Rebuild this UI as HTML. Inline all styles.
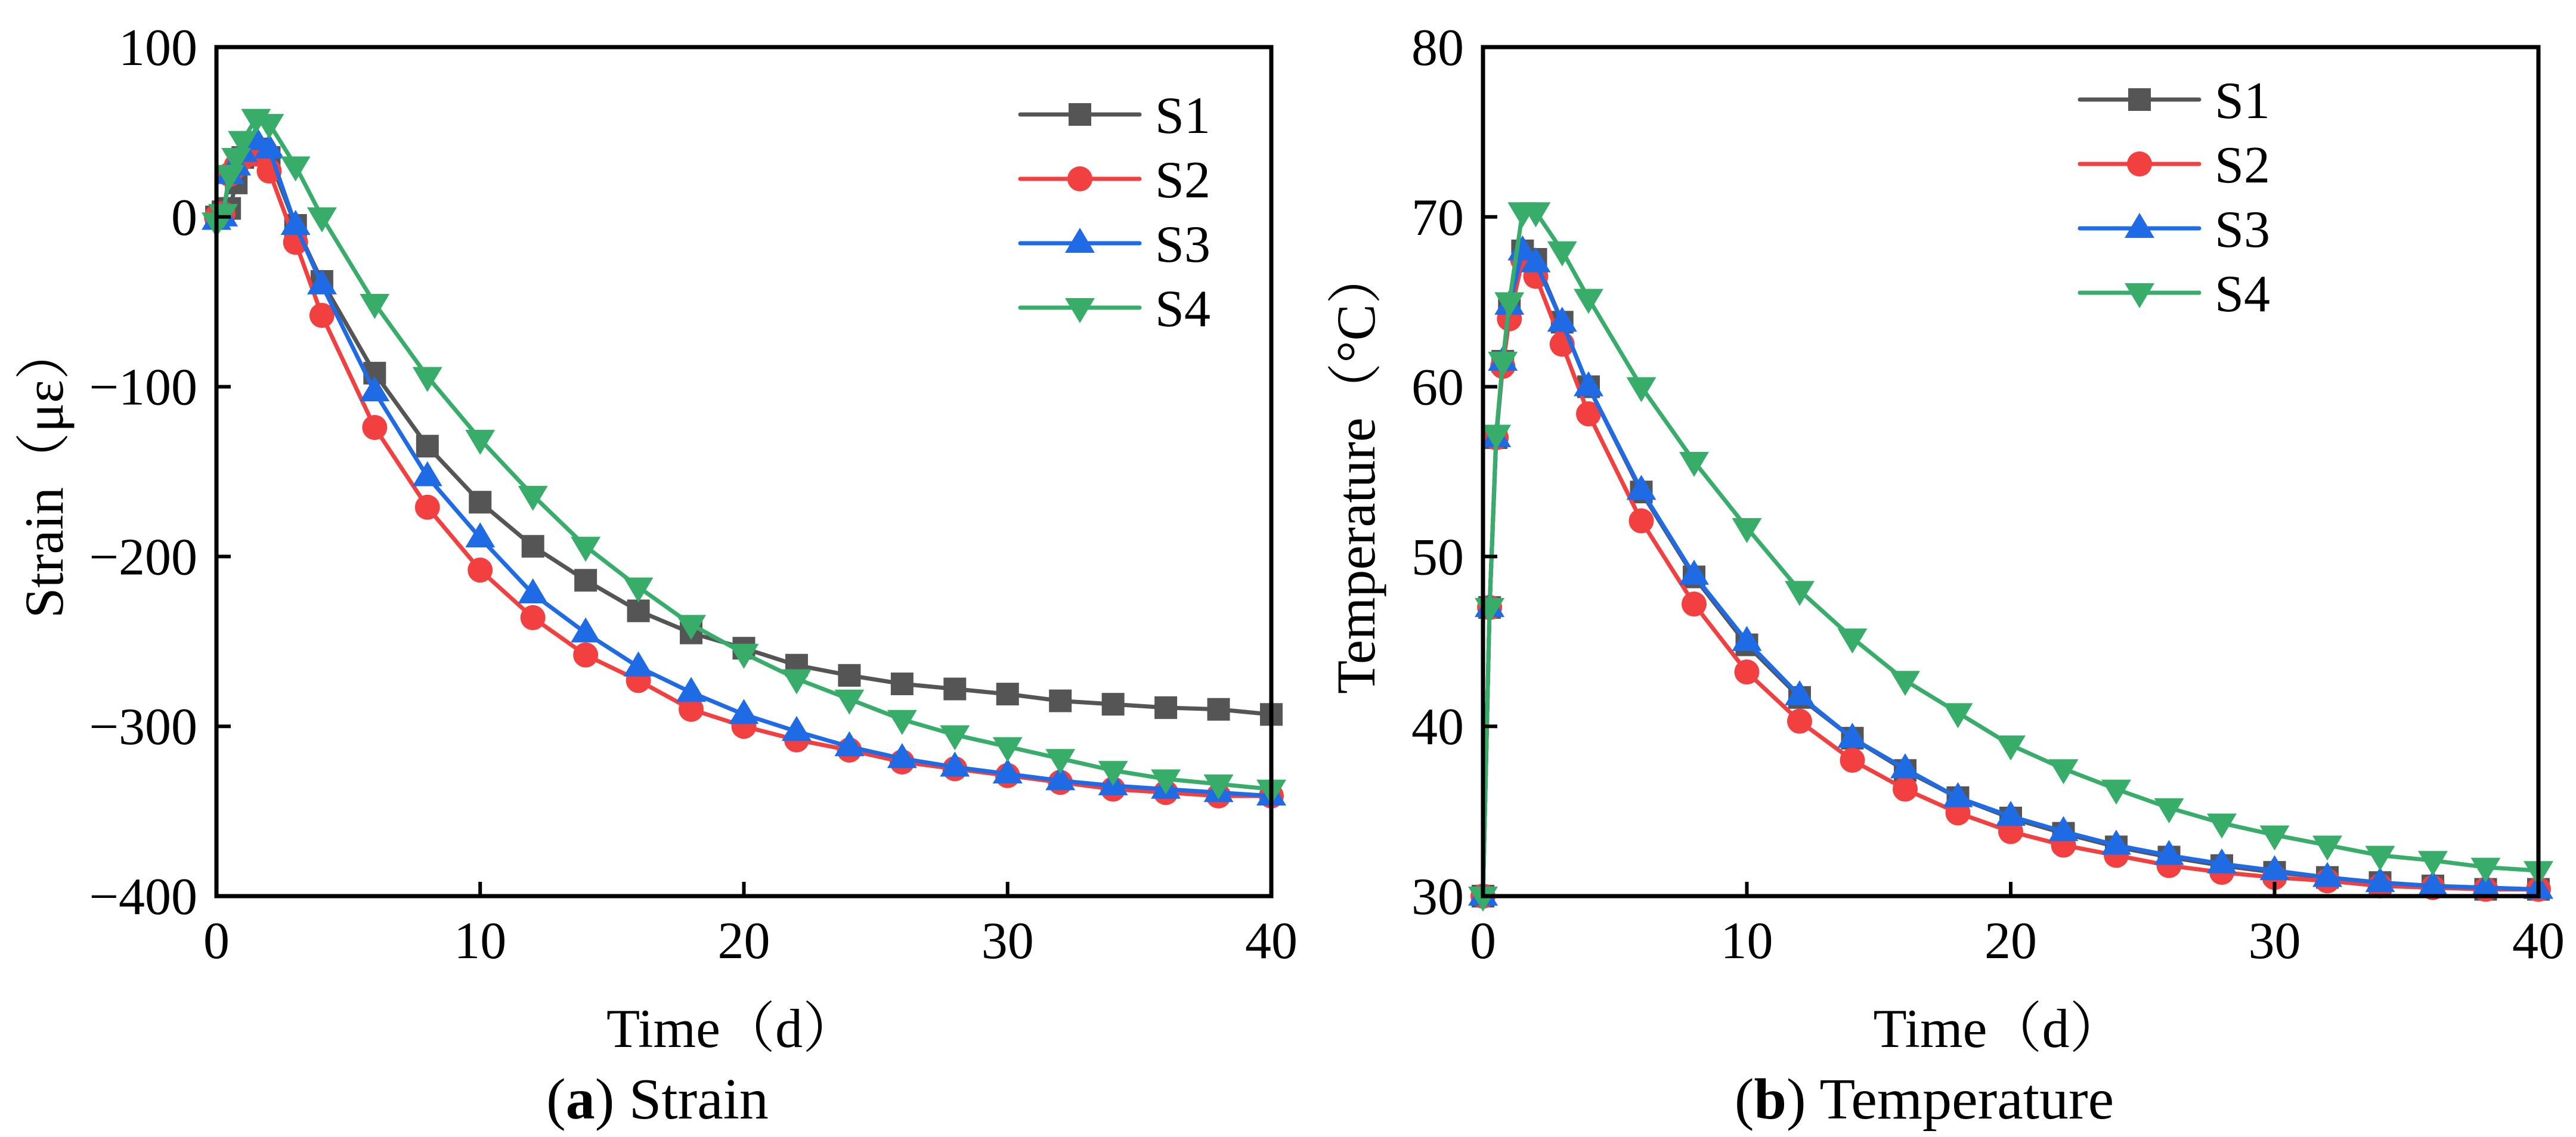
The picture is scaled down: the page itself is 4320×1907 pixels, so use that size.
<!DOCTYPE html>
<html><head><meta charset="utf-8"><style>
html,body{margin:0;padding:0;background:#fff;}
svg{display:block;}
text{font-family:"Liberation Serif","Noto Serif CJK SC",serif;fill:#000;}
</style></head>
<body>
<svg id="fig" width="4320" height="1907" viewBox="0 0 4320 1907" xmlns="http://www.w3.org/2000/svg"></svg>
<script>
const time = [0,0.25,0.5,0.75,1,1.5,2,3,4,6,8,10,12,14,16,18,20,22,24,26,28,30,32,34,36,38,40];
const strainS1 = [0,3,5,20,35,40,35,-5,-38,-92,-135,-168,-194,-214,-232,-245,-254,-264,-270,-275,-278,-281,-285,-287,-289,-290,-293];
const strainS2 = [0,2,25,30,35,37,27,-15,-58,-124,-171,-208,-236,-258,-273,-290,-300,-308,-314,-321,-325,-329,-333,-337,-339,-341,-341];
const strainS3 = [-2,0,25,30,38,45,40,-5,-40,-103,-153,-189,-222,-245,-265,-280,-293,-303,-312,-319,-324,-328,-332,-335,-337,-339,-341];
const strainS4 = [-3,2,25,35,45,58,55,30,0,-51,-94,-131,-164,-194,-218,-240,-257,-272,-284,-296,-305,-312,-319,-326,-331,-334,-337];
const tempS1 = [30,47,57,61.5,64.5,68,67.5,63.8,60,53.8,48.8,44.8,41.7,39.3,37.4,35.8,34.6,33.7,32.9,32.3,31.8,31.4,31.1,30.8,30.6,30.4,30.4];
const tempS2 = [30,47,57,61.2,64,67.5,66.5,62.5,58.4,52.1,47.2,43.2,40.3,38,36.3,34.9,33.8,33,32.4,31.8,31.4,31.1,30.9,30.6,30.5,30.4,30.4];
const tempS3 = [30,47,57,61.5,64.8,68,67.3,63.8,60,53.9,48.9,45,41.8,39.3,37.5,35.8,34.7,33.8,33,32.4,31.9,31.5,31.1,30.8,30.6,30.5,30.4];
const tempS4 = [30,47,57.2,61.5,65,70.3,70.3,68,65.2,60,55.6,51.7,48,45.2,42.7,40.8,38.9,37.5,36.3,35.2,34.3,33.6,33,32.4,32.1,31.7,31.5];
const xTicks = [0,10,20,30,40];
const strainTicks = [100,0,-100,-200,-300,-400];
const tempTicks = [30,40,50,60,70,80];
const seriesNames = ["S1","S2","S3","S4"];

const NS="http://www.w3.org/2000/svg";
const svg=document.getElementById('fig');
function mk(tag,attrs,parent){const e=document.createElementNS(NS,tag);for(const k in attrs)e.setAttribute(k,attrs[k]);(parent||svg).appendChild(e);return e;}
const colors=["#555555","#f23f3f","#1f6be6","#38ad6a"];
const shapes=["square","circle","up","down"];

function marker(g,shape,cx,cy,color){
  let m;
  if(shape==="square") m=mk('rect',{x:cx-19,y:cy-19,width:38,height:38,fill:color},g);
  else if(shape==="circle") m=mk('circle',{cx:cx,cy:cy,r:21,fill:color},g);
  else if(shape==="up") m=mk('polygon',{points:`${cx},${cy-26} ${cx-25},${cy+16} ${cx+25},${cy+16}`,fill:color},g);
  else m=mk('polygon',{points:`${cx},${cy+26} ${cx-25},${cy-16} ${cx+25},${cy-16}`,fill:color},g);
  
  
}

function panel(opt){
  const {L,R,T,B,ymin,ymax,yTicks,series,ytitle,ytitleX,caption,capBold,legX,legY,id}=opt;
  const xs=v=>L+(v-0)/(40-0)*(R-L);
  const ys=v=>B-(v-ymin)/(ymax-ymin)*(B-T);
  const g=mk('g',{});
  
  
  series.forEach((vals,si)=>{
    const sg=mk('g',{},g);
    
    
    const pts=time.map((t,i)=>xs(t)+','+ys(vals[i])).join(' ');
    mk('polyline',{points:pts,fill:'none',stroke:colors[si],'stroke-width':7,'stroke-linejoin':'round'},sg);
    time.forEach((t,i)=>marker(sg,shapes[si],xs(t),ys(vals[i]),colors[si]));
  });
  const fr=mk('rect',{x:L,y:T,width:R-L,height:B-T,fill:'none',stroke:'#000','stroke-width':7},g);
  
  
  xTicks.forEach(v=>{
    mk('line',{x1:xs(v),x2:xs(v),y1:B,y2:B-24,stroke:'#000','stroke-width':6},g);
    const t=mk('text',{x:xs(v),y:B+104,'font-size':88,'text-anchor':'middle'},g);
    t.textContent=v;
    
    
  });
  yTicks.forEach(v=>{
    mk('line',{x1:L,x2:L+24,y1:ys(v),y2:ys(v),stroke:'#000','stroke-width':6},g);
    const t=mk('text',{x:L-32,y:ys(v)+30,'font-size':88,'text-anchor':'end'},g);
    t.textContent=(v<0?'\u2212'+(-v):v);
    
    
  });
  const xt=mk('text',{x:(L+R)/2-20,y:1756,'font-size':92,'text-anchor':'middle'},g);
  xt.textContent='Time（d）';
  
  
  const yt=mk('text',{x:0,y:0,'font-size':92,'text-anchor':'middle',transform:`translate(${ytitleX},${(T+B)/2}) rotate(-90)`},g);
  yt.textContent=ytitle;
  
  
  const cp=mk('text',{x:(L+R)/2-145,y:1876,'font-size':98,'text-anchor':'middle'},g);
  cp.innerHTML='(<tspan font-weight="bold">'+capBold+'</tspan>) '+caption;
  
  
  const lg=mk('g',{},g);
  
  
  seriesNames.forEach((n,si)=>{
    const y=legY+si*108;
    const eg=mk('g',{},lg);
    
    
    mk('line',{x1:legX,x2:legX+200,y1:y,y2:y,stroke:colors[si],'stroke-width':7,'stroke-linecap':'round'},eg);
    marker(eg,shapes[si],legX+100,y,colors[si]);
    const t=mk('text',{x:legX+226,y:y+31,'font-size':88},eg);
    t.textContent=n;
  });
}

panel({id:'strain',L:363,R:2132,T:79,B:1503,ymin:-400,ymax:100,yTicks:strainTicks,
  series:[strainS1,strainS2,strainS3,strainS4],ytitle:'Strain（με）',ytitleX:105,
  caption:'Strain',capBold:'a',legX:1711,legY:192});
panel({id:'temperature',L:2487,R:4257,T:79,B:1503,ymin:30,ymax:80,yTicks:tempTicks,
  series:[tempS1,tempS2,tempS3,tempS4],ytitle:'Temperature（°C）',ytitleX:2305,
  caption:'Temperature',capBold:'b',legX:3488,legY:167});
</script>
</body></html>
